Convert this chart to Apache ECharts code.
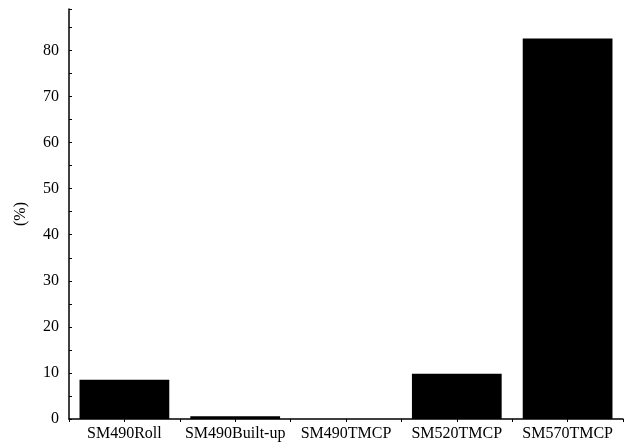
<!DOCTYPE html>
<html>
<head>
<meta charset="utf-8">
<script src="https://cdn.jsdelivr.net/npm/echarts@6/dist/echarts.min.js"></script>
<style>
  html, body { margin: 0; padding: 0; background: #fff; }
  #chart { width: 627px; height: 444px; }
</style>
</head>
<body>
<div id="chart"></div>
<script>
// Steel grade categories and their share (%)
const categories = ['SM490Roll', 'SM490Built-up', 'SM490TMCP', 'SM520TMCP', 'SM570TMCP'];
const shares = [8.5, 0.6, 0, 9.8, 82.6];
const yTicks = [0, 10, 20, 30, 40, 50, 60, 70, 80];

const font = '"Liberation Serif", "Times New Roman", serif';
const chart = echarts.init(document.getElementById('chart'));

chart.setOption({
  animation: false,
  grid: { left: 69, right: 4, top: 9, bottom: 25, containLabel: false },
  xAxis: [
    {
      type: 'category',
      data: categories,
      axisLine: { lineStyle: { color: '#000', width: 1.5 } },
      axisTick: { show: true, inside: false, length: 3, lineStyle: { color: '#000' } },
      axisLabel: { color: '#000', fontFamily: font, fontSize: 16, margin: 7, interval: 0, hideOverlap: false },
      splitLine: { show: false }
    },
    {
      // tick marks at every half category (centres and boundaries)
      type: 'value',
      position: 'bottom',
      min: 0,
      max: categories.length,
      interval: 0.5,
      axisLine: { show: false },
      axisTick: { show: true, inside: false, length: 3, lineStyle: { color: '#000' } },
      axisLabel: { show: false },
      splitLine: { show: false }
    }
  ],
  yAxis: {
    type: 'value',
    name: '(%)',
    nameLocation: 'middle',
    nameGap: 40,
    nameTextStyle: { color: '#000', fontFamily: font, fontSize: 16 },
    min: 0,
    max: 89,
    interval: 10,
    axisLine: { show: true, lineStyle: { color: '#000', width: 1.5 } },
    axisTick: { show: true, inside: true, length: 3, lineStyle: { color: '#000' } },
    minorTick: { show: true, splitNumber: 2, length: 3, lineStyle: { color: '#000' } },
    axisLabel: {
      color: '#000', fontFamily: font, fontSize: 16, margin: 10,
      showMaxLabel: false,
      formatter: v => (yTicks.indexOf(v) >= 0 ? String(v) : '')
    },
    splitLine: { show: false }
  },
  series: [{
    type: 'bar',
    xAxisIndex: 0,
    data: shares,
    barCategoryGap: '19%',
    itemStyle: { color: '#000' }
  }]
});
</script>
</body>
</html>
